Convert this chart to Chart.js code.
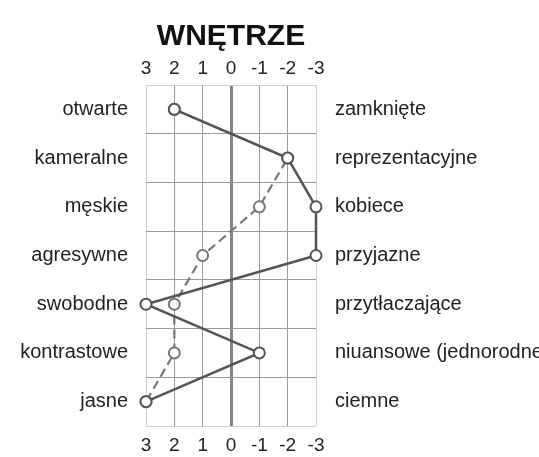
<!DOCTYPE html>
<html>
<head>
<meta charset="utf-8">
<script src="https://cdn.jsdelivr.net/npm/chart.js@4/dist/chart.umd.min.js"></script>
<style>
  body { margin: 0; background: #fff; }
  #wrap { width: 539px; height: 457px; }
</style>
</head>
<body>
<div id="wrap"><canvas id="wnetrzeChart"></canvas></div>
<script>
// skala -3..3, lewe i prawe określenia
const leftLabels = ['otwarte', 'kameralne', 'męskie', 'agresywne', 'swobodne', 'kontrastowe', 'jasne'];
const rightLabels = ['zamknięte', 'reprezentacyjne', 'kobiece', 'przyjazne', 'przytłaczające', 'niuansowe (jednorodne)', 'ciemne'];
const seriesSolid = [2, -2, -3, -3, 3, -1, 3];
const seriesDashed = [2, -2, -1, 1, 2, 2, 3];
const scaleTicks = [3, 2, 1, 0, -1, -2, -3];

const fontFam = '"Liberation Sans", Arial, sans-serif';
const gridInner = '#9a9a9a';
const gridEdge = '#cfcfcf';

const ctx = document.getElementById('wnetrzeChart').getContext('2d');
const chart = new Chart(ctx, {
  type: 'line',
  data: {
    labels: leftLabels,
    datasets: [{
      label: 'A',
      data: seriesSolid,
      borderColor: '#555',
      borderWidth: 2.5,
      pointRadius: 5.5,
      pointBorderWidth: 2,
      pointBorderColor: '#555',
      pointBackgroundColor: '#fff',
      tension: 0,
      clip: false
    }, {
      label: 'B',
      data: seriesDashed,
      borderColor: '#777',
      borderWidth: 2.2,
      borderDash: [9, 5],
      pointRadius: 5.5,
      pointBorderWidth: 2,
      pointBorderColor: '#777',
      pointBackgroundColor: '#fff',
      tension: 0,
      clip: false
    }]
  },
  options: {
    indexAxis: 'y',
    responsive: true,
    maintainAspectRatio: false,
    animation: false,
    layout: { padding: 0 },
    plugins: {
      legend: { display: false },
      tooltip: { enabled: false }
    },
    scales: {
      x: {
        type: 'linear',
        position: 'top',
        min: -3,
        max: 3,
        reverse: true,
        afterBuildTicks: (s) => { s.ticks = scaleTicks.map(v => ({ value: v })); },
        afterFit: (s) => { s.height = 85; },
        ticks: {
          padding: 5,
          color: '#222',
          font: { family: fontFam, size: 19 }
        },
        title: {
          display: true,
          text: 'WNĘTRZE',
          color: '#111',
          padding: { top: 19, bottom: 0 },
          font: { family: fontFam, size: 30, weight: 'bold' }
        },
        grid: {
          drawTicks: false,
          color: (c) => {
            if (!c.tick) return gridEdge;
            if (c.tick.value === 0) return '#858585';
            return Math.abs(c.tick.value) === 3 ? gridEdge : gridInner;
          },
          lineWidth: (c) => c.tick && c.tick.value === 0 ? 3 : 1
        },
        border: { display: false }
      },
      x2: {
        type: 'linear',
        position: 'bottom',
        min: -3,
        max: 3,
        reverse: true,
        afterBuildTicks: (s) => { s.ticks = scaleTicks.map(v => ({ value: v })); },
        afterFit: (s) => { s.height = 29; },
        ticks: {
          padding: 8,
          color: '#222',
          font: { family: fontFam, size: 19 }
        },
        grid: { display: false, drawTicks: false },
        border: { display: false }
      },
      y: {
        type: 'category',
        position: 'left',
        offset: true,
        afterFit: (s) => { s.width = 146; },
        ticks: {
          padding: 18,
          color: '#222',
          font: { family: fontFam, size: 20 }
        },
        grid: {
          color: (c) => (!c.tick || c.index === 0) ? gridEdge : gridInner,
          lineWidth: 1,
          drawTicks: false,
          offset: true
        },
        border: { display: false }
      },
      y2: {
        type: 'category',
        position: 'right',
        labels: rightLabels,
        offset: true,
        afterFit: (s) => { s.width = 223; },
        ticks: {
          padding: 19,
          color: '#222',
          font: { family: fontFam, size: 20 }
        },
        grid: { display: false, drawTicks: false },
        border: { display: false }
      }
    }
  }
});
</script>
</body>
</html>
